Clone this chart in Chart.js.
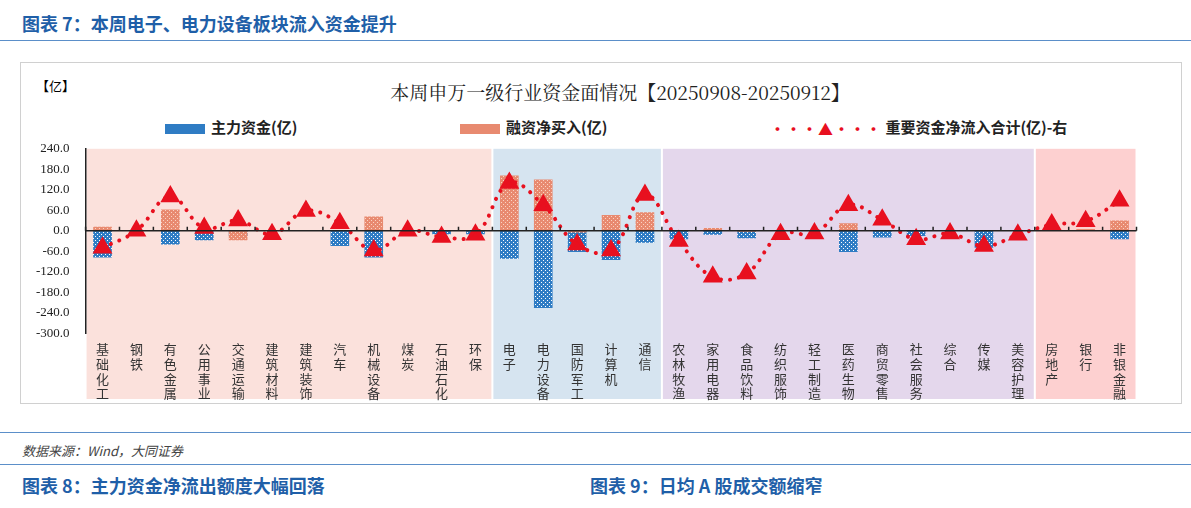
<!DOCTYPE html>
<html><head><meta charset="utf-8">
<script src="https://cdn.jsdelivr.net/npm/chart.js@4.4.0/dist/chart.umd.min.js"></script>
<style>
body{margin:0;width:1191px;height:508px;background:#fff;font-family:"Noto Sans CJK SC",sans-serif;position:relative;overflow:hidden}
.hd{position:absolute;left:22px;font-weight:bold;color:#1f5fa8;font-size:18px}
.bl{position:absolute;left:0;width:1191px;height:1px;background:#5b8fc9}
#box{position:absolute;left:20px;top:62px;width:1160px;height:340px;border:1px solid #d0d0d0}
#ttl{position:absolute;left:0;width:1240px;top:78px;text-align:center;font-size:19px;font-family:"Noto Serif CJK SC","Noto Sans CJK SC",serif;color:#222}
#yi{position:absolute;left:36px;top:76px;font-size:13px}
.lg{position:absolute;top:116px;font-size:15px;font-weight:bold;color:#222}
.sw{display:inline-block;width:40px;height:10px;vertical-align:middle;margin-right:6px}
#wrap{position:absolute;left:28px;top:133px;width:1120px;height:268px}
</style></head><body>
<div class="hd" style="top:10px">图表 7：本周电子、电力设备板块流入资金提升</div>
<div class="bl" style="top:40px"></div>
<div id="box"></div>
<div id="ttl">本周申万一级行业资金面情况【20250908-20250912】</div>
<div id="yi">【亿】</div>
<div class="lg" style="left:165px"><span class="sw" style="background:#2f7cc4"></span>主力资金(亿)</div>
<div class="lg" style="left:460px"><span class="sw" style="background:#e88a70"></span>融资净买入(亿)</div>
<div class="lg" style="left:770px"><span style="color:#e8101f;letter-spacing:1px;vertical-align:middle">•••▲•••</span> 重要资金净流入合计(亿)-右</div>
<div id="wrap"><canvas id="c"></canvas></div>
<div class="bl" style="top:432px"></div>
<div style="position:absolute;left:22px;top:441px;font-size:13px;font-style:italic;color:#444">数据来源：Wind，大同证券</div>
<div class="bl" style="top:464px"></div>
<div class="hd" style="top:472px">图表 8：主力资金净流出额度大幅回落</div>
<div class="hd" style="top:472px;left:590px">图表 9：日均 A 股成交额缩窄</div>
<script>
const categories = ["基础化工","钢铁","有色金属","公用事业","交通运输","建筑材料","建筑装饰","汽车","机械设备","煤炭","石油石化","环保",
  "电子","电力设备","国防军工","计算机","通信",
  "农林牧渔","家用电器","食品饮料","纺织服饰","轻工制造","医药生物","商贸零售","社会服务","综合","传媒","美容护理",
  "房地产","银行","非银金融"];
const mainFunds = [-78,0,-40,-28,-15,0,0,-45,-78,0,-10,-10, -82,-226,-62,-86,-35, -25,-12,-22,0,0,-62,-20,-15,0,-50,0, 0,0,-25];
const marginBuy = [12,0,62,0,-28,0,0,0,42,0,0,0, 162,150,-5,46,54, 0,8,-3,0,0,22,0,0,0,0,0, 0,5,30];
const netTotal = [-50,0,100,8,30,-10,58,22,-58,0,-18,-12, 140,75,-40,-58,105, -30,-135,-125,-10,-8,75,32,-25,-8,-45,-12, 18,28,88];
const yTicks = [240,180,120,60,0,-60,-120,-180,-240,-300];
const groups = [[0,11,"#fbe1dc"],[12,16,"#d6e4f0"],[17,27,"#e4d7ec"],[28,30,"#fdd0d0"]];

function dots(bg, fg) {
  const p = document.createElement("canvas"); p.width = 4; p.height = 4;
  const g = p.getContext("2d");
  g.fillStyle = bg; g.fillRect(0,0,4,4);
  g.fillStyle = fg; g.fillRect(1,1,1,1); g.fillRect(3,3,1,1);
  return g.createPattern(p, "repeat");
}

const bgPlugin = {
  id: "bg",
  beforeDraw(chart) {
    const {ctx, chartArea, scales: {x, y}} = chart;
    const w = x.getPixelForValue(1) - x.getPixelForValue(0);
    groups.forEach(([a, b, col]) => {
      const l = x.getPixelForValue(a) - w / 2, r = x.getPixelForValue(b) + w / 2;
      ctx.fillStyle = col;
      ctx.fillRect(l + 1, chartArea.top, r - l - 2, chart.height - chartArea.top - 2);
    });
  },
  afterDatasetsDraw(chart) {
    const {ctx, chartArea, scales: {x, y}} = chart;
    const z = y.getPixelForValue(0);
    const w = x.getPixelForValue(1) - x.getPixelForValue(0);
    ctx.save();
    ctx.strokeStyle = "#222"; ctx.lineWidth = 1.5;
    ctx.beginPath(); ctx.moveTo(chartArea.left, z); ctx.lineTo(chartArea.right, z);
    for (let i = 0; i <= categories.length; i++) {
      const px = x.getPixelForValue(0) - w / 2 + i * w;
      ctx.moveTo(px, z - 4); ctx.lineTo(px, z);
    }
    ctx.stroke(); ctx.restore();
  }
};

new Chart(document.getElementById("c"), {
  data: {
    labels: categories.map(s => s.split("")),
    datasets: [
      {type: "line", label: "重要资金净流入合计(亿)-右", data: netTotal, borderColor: "#e8101f", borderWidth: 4,
       borderDash: [0.1, 9], borderCapStyle: "round", tension: 0.4, pointStyle: "triangle", pointRadius: 7.5,
       pointBackgroundColor: "#e8101f", pointBorderColor: "#e8101f", order: 0},
      {type: "bar", label: "主力资金(亿)", data: mainFunds, backgroundColor: dots("#2f7cc4", "#ffffff"),
       barPercentage: 0.55, categoryPercentage: 1, grouped: false, order: 2},
      {type: "bar", label: "融资净买入(亿)", data: marginBuy, backgroundColor: dots("#e88a70", "#fbd3c4"),
       barPercentage: 0.55, categoryPercentage: 1, grouped: false, order: 1}
    ]
  },
  options: {
    responsive: true, maintainAspectRatio: false, animation: false,
    layout: {padding: {left: 0, right: 0, top: 0}},
    plugins: {legend: {display: false}, tooltip: {enabled: false}},
    scales: {
      x: {grid: {display: false}, border: {display: false},
          ticks: {autoSkip: false, maxRotation: 0, padding: 0, color: "#333", font: {size: 13, family: "Noto Sans CJK SC", lineHeight: 1.15}}},
      y: {min: -300, max: 240, afterBuildTicks: s => { s.ticks = yTicks.map(v => ({value: v})); },
          grid: {display: false}, border: {color: "#222", width: 1.5},
          ticks: {color: "#222", padding: 8, font: {size: 13, family: "Liberation Serif"}, callback: v => v.toFixed(1)}}
    }
  },
  plugins: [bgPlugin]
});
</script>
</body></html>
